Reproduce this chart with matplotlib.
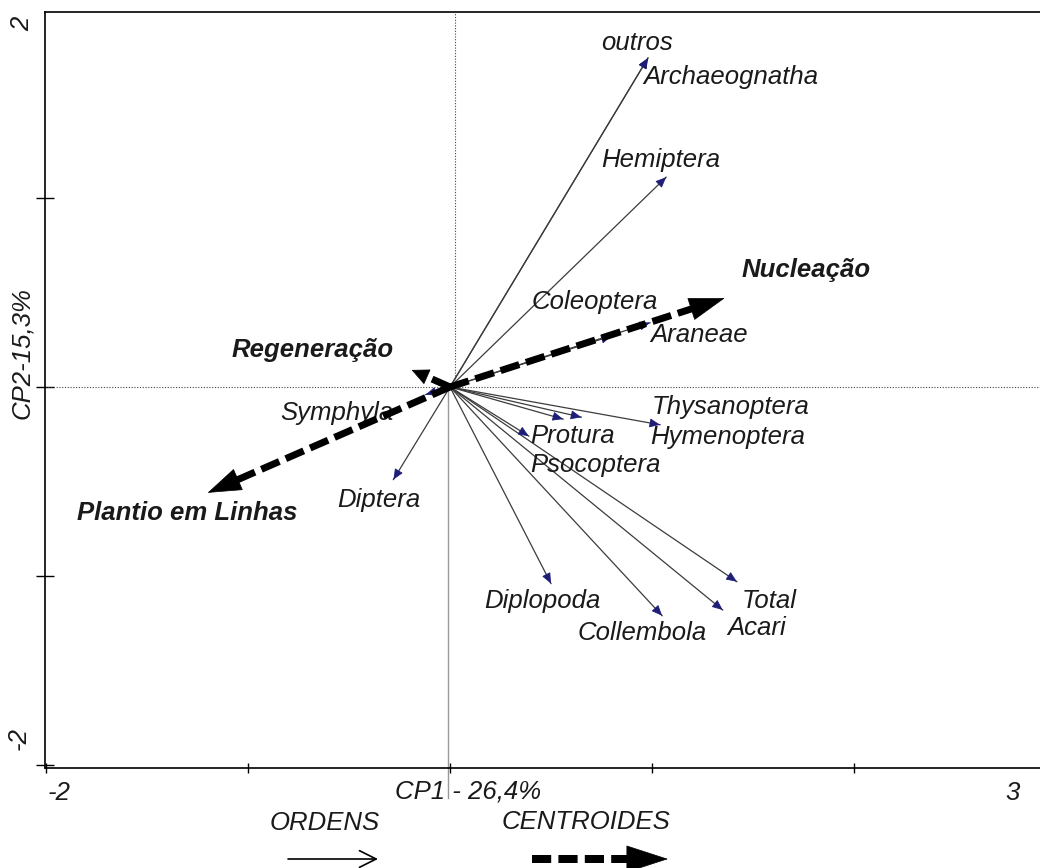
import numpy as np
import matplotlib
matplotlib.use("Agg")
import matplotlib.pyplot as plt

plt.rcParams['font.family'] = ['Liberation Sans', 'DejaVu Sans']

# ordens (vetores das variaveis) - CP1 e CP2
ordens = ["outros", "Archaeognatha", "Hemiptera", "Coleoptera", "Araneae",
          "Symphyla", "Diptera", "Thysanoptera", "Hymenoptera", "Protura",
          "Psocoptera", "Diplopoda", "Collembola", "Total", "Acari"]
cp1_ord = [0.98, 0.98, 1.07, 0.80, 0.99, -0.12, -0.28, 1.04, 0.65, 0.56,
           0.39, 0.50, 1.05, 1.42, 1.35]
cp2_ord = [1.74, 1.74, 1.11, 0.27, 0.34, -0.04, -0.49, -0.20, -0.16, -0.17,
           -0.26, -1.04, -1.21, -1.03, -1.18]
# onde fica o nome de cada ordem
lab_x = [0.75, 0.955, 0.75, 0.405, 0.99, -0.84, -0.56, 1.0, 0.99, 0.395,
         0.395, 0.17, 0.63, 1.445, 1.375]
lab_y = [1.82, 1.64, 1.20, 0.45, 0.275, -0.14, -0.60, -0.105, -0.265, -0.26,
         -0.415, -1.13, -1.30, -1.13, -1.275]

# centroides dos tratamentos
centroides = ["Nucleação", "Regeneração", "Plantio em Linhas"]
cp1_cen = [1.36, -0.19, -1.20]
cp2_cen = [0.47, 0.09, -0.56]
cen_lab_x = [1.445, -1.08, -1.845]
cen_lab_y = [0.62, 0.195, -0.665]

W, H = 1040, 868
FS = 18.5
TC = '#1a1a1a'

fig = plt.figure(figsize=(W / 100, H / 100), dpi=100)
ax = fig.add_axes([45 / W, 1 - 768 / H, 995 / W, 756 / H])
x0, x1 = -2.005, 2.921
y0, y1 = -2.016, 1.984
ax.set_xlim(x0, x1)
ax.set_ylim(y0, y1)
sx = 995 / (x1 - x0)
sy = 756 / (y1 - y0)

for s in ['left', 'top', 'bottom']:
    ax.spines[s].set_linewidth(1.2)
ax.spines['right'].set_visible(False)
ax.set_xticks([-2, -1, 0, 1, 2])
ax.set_yticks([-2, -1, 0, 1])
ax.tick_params(axis='x', direction='inout', length=7, width=1, labelbottom=False)
ax.tick_params(axis='y', direction='inout', length=13, width=1, labelleft=False)

# linhas de referencia
ax.plot([x0, x1], [0, 0], color='#444444', lw=0.8, ls=(0, (1, 1.5)))
ax.plot([0.025, 0.025], [0, y1], color='#444444', lw=0.8, ls=(0, (1, 1.5)))
ax.plot([-0.01, -0.01], [0, -2.175], color='#999999', lw=1, clip_on=False)


def seta(a, xa, ya, xb, yb, kx, ky, lw, dash, hl, hw, z=5):
    # haste tracejada + cabeca cheia, tamanhos em pixels
    dx, dy = (xb - xa) * kx, (yb - ya) * ky
    L = np.hypot(dx, dy)
    ux, uy = dx / L, dy / L
    bx = xb - ux * hl / kx
    by = yb - uy * hl / ky
    a.plot([xa, bx], [ya, by], color='black', lw=lw * 0.72,
           ls=(0, dash), dash_capstyle='butt', solid_capstyle='butt',
           zorder=z, clip_on=False)
    a.annotate('', xy=(xb, yb), xytext=(bx - ux * 0.5 / kx, by - uy * 0.5 / ky),
               arrowprops=dict(arrowstyle='-|>,head_length=%.2f,head_width=%.2f'
                               % (hl * 0.72, hw * 0.36),
                               mutation_scale=1, color='black', lw=0.5,
                               shrinkA=0, shrinkB=0), zorder=z,
               annotation_clip=False)


# vetores das ordens
for x, y in zip(cp1_ord, cp2_ord):
    ax.plot([0, x], [0, y], color='#3c3c3c', lw=0.9, zorder=3)
    L = np.hypot(x * sx, y * sy)
    ux, uy = x * sx / L, y * sy / L
    ax.annotate('', xy=(x, y), xytext=(x - ux * 9 / sx, y - uy * 9 / sy),
                arrowprops=dict(arrowstyle='-|>,head_length=0.65,head_width=0.28',
                                mutation_scale=10, color='#1e1e78', lw=0.6,
                                shrinkA=0, shrinkB=0), zorder=4)

for t, x, y in zip(ordens, lab_x, lab_y):
    ax.text(x, y, t, fontsize=FS, style='italic', ha='left', va='center',
            color=TC)

# centroides
heads = [(34, 22), (16, 15), (32, 22)]
for (x, y), (hl, hw) in zip(zip(cp1_cen, cp2_cen), heads):
    seta(ax, 0, 0, x, y, sx, sy, 7, (2.8, 1.0), hl, hw)

for t, x, y in zip(centroides, cen_lab_x, cen_lab_y):
    ax.text(x, y, t, fontsize=FS, style='italic', weight='bold', ha='left',
            va='center', color=TC)

# camada em pixels para os textos de fora e a legenda
ov = fig.add_axes([0, 0, 1, 1])
ov.set_xlim(0, W)
ov.set_ylim(H, 0)
ov.axis('off')

kw = dict(fontsize=FS, style='italic', color=TC)
ov.text(22, 24, "2", rotation=90, ha='center', va='center', **kw)
ov.text(22, 353, "CP2-15,3%", rotation=90, ha='center', va='center', **kw)
ov.text(19, 738, "-2", rotation=90, ha='center', va='center', **kw)
ov.text(59, 793, "-2", ha='center', va='center', **kw)
ov.text(1013, 793, "3", ha='center', va='center', **kw)
ov.text(395, 791, "CP1 - 26,4%", ha='left', va='center', **kw)
ov.text(270, 823, "ORDENS", ha='left', va='center', **kw)
ov.text(502, 822, "CENTROIDES", ha='left', va='center', **kw)

ov.annotate('', xy=(378, 859), xytext=(288, 859),
            arrowprops=dict(arrowstyle='->,head_length=0.6,head_width=0.3',
                            mutation_scale=20, color='black', lw=1.2,
                            shrinkA=0, shrinkB=0))
seta(ov, 532, 859, 668, 859, 1, -1, 8, (2.4, 0.9), 40, 26)

fig.savefig('out.png', dpi=100, facecolor='white')
